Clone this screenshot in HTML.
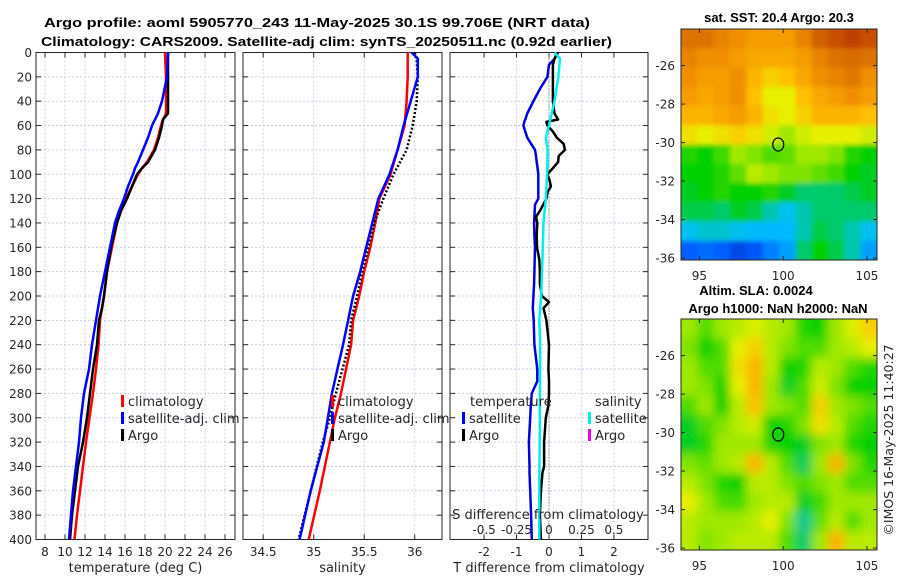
<!DOCTYPE html>
<html><head><meta charset="utf-8"><title>Argo profile</title>
<style>
html,body{margin:0;padding:0;background:#fff;}
svg{display:block;font-family:"DejaVu Sans","Liberation Sans",sans-serif;}
.tk{font-size:12px;fill:#262626;}
.ttl{font-size:13px;font-weight:bold;fill:#000;font-family:"Liberation Sans","DejaVu Sans",sans-serif;}
.lg{font-size:13px;fill:#262626;}
</style></head>
<body>
<svg id="chart" width="900" height="580" viewBox="0 0 900 580" xmlns="http://www.w3.org/2000/svg">
<defs><filter id="blur" x="0" y="0" width="1" height="1"><feGaussianBlur stdDeviation="5"/></filter>
<filter id="blur2" x="0" y="0" width="1" height="1"><feGaussianBlur stdDeviation="2.5"/></filter>
<clipPath id="cm1"><rect x="681" y="29" width="196" height="231"/></clipPath>
<clipPath id="cm2"><rect x="681" y="319" width="196" height="231"/></clipPath></defs>
<g id="root"></g>
</svg>
<script>
// ---- data ----
const tempDepths=[0,20,40,50,55,60,70,80,90,95,100,110,120,130,140,160,180,200,210,220,240,260,280,300,320,340,360,380,400];
const tempClim=[20.0,20.1,20.1,20.1,19.8,19.6,19.3,18.9,18.2,17.7,17.3,16.7,16.1,15.6,15.2,14.7,14.2,13.9,13.7,13.5,13.35,13.1,12.8,12.45,12.1,11.8,11.5,11.2,10.95];
const tempSat=[20.3,20.2,19.7,19.3,19.0,18.7,18.3,17.8,17.3,17.0,16.8,16.3,15.9,15.4,15.0,14.5,14.0,13.5,13.3,13.1,12.7,12.4,11.9,11.6,11.4,11.1,10.8,10.6,10.4];
const tempArgo=[20.3,20.3,20.3,20.3,19.8,19.7,19.4,19.0,18.3,17.7,17.2,16.7,16.2,15.6,15.2,14.6,14.2,13.9,13.7,13.4,13.2,12.8,12.5,12.2,11.8,11.3,11.0,10.7,10.5];
const salDepths=[0,5,20,40,60,80,100,120,140,160,180,200,220,240,280,300,320,360,400];
const salClim=[35.93,35.93,35.93,35.92,35.9,35.83,35.76,35.65,35.61,35.56,35.5,35.45,35.39,35.37,35.27,35.21,35.16,35.06,34.95];
const salSat=[35.97,36.03,36.03,35.96,35.89,35.83,35.75,35.64,35.58,35.52,35.46,35.39,35.34,35.29,35.18,35.14,35.1,34.97,34.86];
const salArgo=[36.0,36.02,36.03,36.02,35.98,35.92,35.79,35.69,35.6,35.54,35.48,35.43,35.37,35.35,35.22,35.16,35.09,34.97,34.85];
const dDepths=[0,5,10,20,30,40,50,55,57,60,65,70,75,80,85,90,95,100,105,110,115,120,125,130,135,140,150,160,170,180,190,200,205,210,220,240,260,270,280,290,300,320,340,345,360,380,400];
const dTSat=[0.24,0.18,0.0,-0.05,-0.28,-0.48,-0.67,-0.73,-0.76,-0.79,-0.73,-0.67,-0.55,-0.43,-0.4,-0.38,-0.35,-0.33,-0.33,-0.33,-0.33,-0.33,-0.43,-0.44,-0.45,-0.46,-0.45,-0.43,-0.44,-0.45,-0.46,-0.48,-0.49,-0.5,-0.47,-0.45,-0.36,-0.36,-0.53,-0.56,-0.58,-0.62,-0.6,-0.6,-0.58,-0.55,-0.53];
const dTArgo=[0.28,0.17,0.12,0.12,0.12,0.12,0.17,0.28,-0.08,-0.05,0.12,0.24,0.45,0.49,0.3,0.28,0.12,-0.05,0.02,0.06,-0.05,-0.08,-0.18,-0.28,-0.4,-0.36,-0.38,-0.37,-0.3,-0.28,-0.28,-0.22,0.0,-0.17,-0.08,0.0,-0.02,0.0,0.0,-0.02,-0.1,-0.15,-0.15,-0.2,-0.25,-0.28,-0.25];
const sDepths=[0,5,20,40,60,70,80,100,120,140,160,200,220,240,280,320,360,400];
const dSSat=[0.042,0.085,0.072,0.042,0.0,-0.025,-0.01,-0.015,-0.025,-0.042,-0.048,-0.06,-0.075,-0.068,-0.07,-0.072,-0.075,-0.075];
const yTicks=[0,20,40,60,80,100,120,140,160,180,200,220,240,260,280,300,320,340,360,380,400];
const tTicks=[8,10,12,14,16,18,20,22,24,26];
const sTicks=[34.5,35,35.5,36];
const sTickLabels=["34.5","35","35.5","36"];
const dTicks=[-2,-1,0,1,2];
const dSTicks=[-0.5,-0.25,0,0.25,0.5];
const dSTickLabels=["-0.5","-0.25","0","0.25","0.5"];
const latTicks=[-26,-28,-30,-32,-34,-36];
const lonTicks=[95,100,105];
const argoLon=99.706, argoLat=-30.1;
const sstGrid=[
[0.85,0.85,0.82,0.8,0.78,0.78,0.78,0.82,0.88,0.9,0.92,0.9],
[0.82,0.8,0.8,0.78,0.76,0.76,0.76,0.78,0.82,0.85,0.86,0.85],
[0.8,0.78,0.78,0.8,0.74,0.7,0.72,0.76,0.8,0.82,0.84,0.8],
[0.78,0.76,0.78,0.8,0.72,0.66,0.66,0.72,0.76,0.78,0.8,0.78],
[0.74,0.74,0.76,0.78,0.74,0.68,0.66,0.7,0.74,0.74,0.74,0.72],
[0.68,0.66,0.68,0.7,0.68,0.64,0.6,0.64,0.66,0.66,0.66,0.64],
[0.52,0.5,0.54,0.6,0.58,0.55,0.56,0.6,0.6,0.58,0.52,0.5],
[0.5,0.5,0.52,0.56,0.62,0.6,0.58,0.58,0.56,0.54,0.5,0.48],
[0.48,0.5,0.52,0.5,0.5,0.52,0.48,0.44,0.44,0.44,0.46,0.48],
[0.46,0.46,0.44,0.48,0.46,0.4,0.36,0.4,0.44,0.44,0.44,0.44],
[0.36,0.38,0.38,0.36,0.34,0.34,0.34,0.4,0.46,0.44,0.4,0.36],
[0.2,0.22,0.2,0.15,0.18,0.25,0.3,0.44,0.5,0.46,0.4,0.3]];
const slaGrid=[
[0.6,0.55,0.6,0.62,0.65,0.62,0.6,0.52,0.5,0.6,0.65,0.7],
[0.58,0.5,0.55,0.66,0.7,0.62,0.58,0.55,0.55,0.6,0.62,0.66],
[0.6,0.55,0.55,0.68,0.74,0.62,0.5,0.52,0.62,0.6,0.55,0.52],
[0.6,0.58,0.5,0.66,0.74,0.6,0.48,0.55,0.64,0.58,0.5,0.5],
[0.55,0.6,0.5,0.62,0.72,0.6,0.58,0.55,0.7,0.6,0.58,0.55],
[0.48,0.55,0.58,0.62,0.64,0.5,0.52,0.58,0.68,0.62,0.55,0.52],
[0.48,0.52,0.6,0.6,0.6,0.52,0.5,0.48,0.58,0.6,0.52,0.5],
[0.58,0.56,0.6,0.62,0.74,0.62,0.55,0.45,0.6,0.74,0.58,0.52],
[0.62,0.58,0.52,0.5,0.62,0.62,0.58,0.55,0.58,0.6,0.55,0.55],
[0.66,0.6,0.55,0.54,0.6,0.62,0.62,0.48,0.54,0.6,0.6,0.6],
[0.62,0.6,0.6,0.6,0.62,0.66,0.58,0.42,0.56,0.62,0.55,0.6],
[0.62,0.58,0.6,0.62,0.62,0.62,0.55,0.44,0.6,0.74,0.62,0.62]];

// ---- helpers ----
const NS='http://www.w3.org/2000/svg';
const root=document.getElementById('root');
function mk(tag,attrs,parent){const e=document.createElementNS(NS,tag);for(const k in attrs)e.setAttribute(k,attrs[k]);(parent||root).appendChild(e);return e;}
function txt(s,x,y,cls,anchor,parent){const t=mk('text',{x:x,y:y,'class':cls,'text-anchor':anchor||'start'},parent);t.textContent=s;return t;}
const Y0=52.5,Y1=539.5;
const yScale=d=>Y0+(d/400)*(Y1-Y0);
const panels=[
 {x0:36,x1:235,lo:7.1,hi:27,ticks:tTicks,labels:tTicks.map(String),name:'temperature-panel',title:'temperature (deg C)'},
 {x0:243,x1:442,lo:34.3,hi:36.27,ticks:sTicks,labels:sTickLabels,name:'salinity-panel',title:'salinity'},
 {x0:450,x1:648,lo:-3.05,hi:3.05,ticks:dTicks,labels:dTicks.map(String),name:'difference-panel',title:'T difference from climatology'}];
function xs(p,v){return p.x0+(v-p.lo)/(p.hi-p.lo)*(p.x1-p.x0);}
function line(p,vals,deps,color,w,name,dash){
 const pts=vals.map((v,i)=>xs(p,v).toFixed(1)+','+yScale(deps[i]).toFixed(1)).join(' ');
 const e=mk('polyline',{points:pts,fill:'none',stroke:color,'stroke-width':w,'stroke-linejoin':'round'});
 if(dash)e.setAttribute('stroke-dasharray',dash);
 
 
 return e;}

// titles
let t=txt('Argo profile: aoml 5905770_243 11-May-2025 30.1S 99.706E (NRT data)',44,27,'ttl');
t.setAttribute('textLength','546');
t.setAttribute('lengthAdjust','spacingAndGlyphs');


t=txt('Climatology: CARS2009. Satellite-adj clim: synTS_20250511.nc (0.92d earlier)',41,46,'ttl');
t.setAttribute('textLength','571');
t.setAttribute('lengthAdjust','spacingAndGlyphs');



panels.forEach((p,pi)=>{
 const g=mk('g',{});
 
 
 p.ticks.forEach(v=>{const x=xs(p,v);mk('line',{x1:x,x2:x,y1:Y0,y2:Y1,stroke:'#b8c4e6','stroke-width':0.8,'stroke-dasharray':'2,2'},g);});
 yTicks.forEach(d=>{const y=yScale(d);mk('line',{x1:p.x0,x2:p.x1,y1:y,y2:y,stroke:'#b8c4e6','stroke-width':0.8,'stroke-dasharray':'2,2'},g);
   mk('line',{x1:p.x0,x2:p.x0+5,y1:y,y2:y,stroke:'#262626'},g);mk('line',{x1:p.x1-5,x2:p.x1,y1:y,y2:y,stroke:'#262626'},g);});
 p.ticks.forEach((v,i)=>{const x=xs(p,v);mk('line',{x1:x,x2:x,y1:Y1,y2:Y1-5,stroke:'#262626'},g);mk('line',{x1:x,x2:x,y1:Y0,y2:Y0+5,stroke:'#262626'},g);
   const tl=txt(p.labels[i],x,556,'tk','middle',g);
   
   });
 const at=txt(p.title,(p.x0+p.x1)/2,572,'tk','middle',g);
 at.setAttribute('style','font-size:13px');
 
 
 mk('rect',{x:p.x0,y:Y0,width:p.x1-p.x0,height:Y1-Y0,fill:'none',stroke:'#262626','stroke-width':1},g);
});
yTicks.forEach(d=>{const tl=txt(String(d),32,yScale(d)+4.5,'tk','end');
 
 });

const P0=panels[0],P1=panels[1],P2=panels[2];
line(P0,tempClim,tempDepths,'#ff0000',2.5,'temp-climatology-line');
line(P0,tempArgo,tempDepths,'#000000',2.5,'temp-argo-line');
line(P0,tempSat,tempDepths,'#0000ff',2.5,'temp-satellite-line');
line(P1,salClim,salDepths,'#ff0000',2.5,'sal-climatology-line');
line(P1,salArgo,salDepths,'#000000',2.5,'sal-argo-line','2,2');
line(P1,salSat,salDepths,'#0000ff',2.5,'sal-satellite-line');
let z=mk('line',{x1:xs(P2,0),x2:xs(P2,0),y1:Y0,y2:Y1,stroke:'#555','stroke-width':1,'stroke-dasharray':'1,2'});


line(P2,dTSat,dDepths,'#0000dd',2.5,'temp-diff-satellite-line');
line(P2,dTArgo,dDepths,'#000000',2.5,'temp-diff-argo-line');
line(P2,dSSat.map(v=>v*4),sDepths,'#00eeee',2.5,'sal-diff-satellite-line');
t=txt('S difference from climatology',548,519,'tk','middle');t.setAttribute('style','font-size:13px');


dSTicks.forEach((v,i)=>{const tl=txt(dSTickLabels[i],xs(P2,v*4),534,'tk','middle');
 
 });

function legend(x,y,color,label,name){const g=mk('g',{});
 
 
 mk('rect',{x:x,y:y-10,width:3,height:12,fill:color},g);
 if(label)txt(label,x+7,y+1,'lg','start',g);return g;}
legend(121,405,'#ff0000','climatology','legend-entry-climatology');
legend(121,422,'#0000ff','satellite-adj. clim','legend-entry-satellite');
legend(121,439,'#000000','Argo','legend-entry-argo');
legend(331,405,'#ff0000','climatology','legend-entry-climatology');
legend(331,422,'#0000ff','satellite-adj. clim','legend-entry-satellite');
legend(331,439,'#000000','Argo','legend-entry-argo');
t=txt('temperature',470,406,'lg');


t=txt('salinity',595,406,'lg');


legend(462,422,'#0000ff','satellite','legend-entry-temp-satellite');
legend(462,439,'#000000','Argo','legend-entry-temp-argo');
legend(588,422,'#00eeee','satellite','legend-entry-sal-satellite');
legend(588,439,'#ee00ee','Argo','legend-entry-sal-argo');

const stops=[[0,[0,0,160]],[0.2,[0,96,255]],[0.35,[0,192,255]],[0.42,[0,200,144]],[0.5,[0,208,0]],[0.6,[160,232,0]],[0.66,[232,240,0]],[0.72,[255,192,0]],[0.8,[240,144,0]],[0.88,[208,96,0]],[1,[160,0,0]]];
function cmap(v){for(let i=1;i<stops.length;i++){if(v<=stops[i][0]){const a=stops[i-1],b=stops[i],f=(v-a[0])/(b[0]-a[0]);
 return 'rgb('+a[1].map((c,k)=>Math.round(c+(b[1][k]-c)*f)).join(',')+')';}}return 'rgb(160,0,0)';}
function map(top,grid,name,filt,clip){
 const L=681,R=877,B=top+231,lonLo=93.9,lonHi=105.6,latTop=-24.1,latBot=-36.1;
 const mx=v=>L+(v-lonLo)/(lonHi-lonLo)*(R-L), my=v=>top+(latTop-v)/(latTop-latBot)*(B-top);
 const g=mk('g',{});
 
 
 const gc=mk('g',{'clip-path':'url(#'+clip+')'},g);
 const inner=mk('g',{filter:'url(#'+filt+')'},gc);
 const nr=grid.length,nc=grid[0].length,cw=(R-L)/nc,ch=(B-top)/nr;
 grid.forEach((row,r)=>row.forEach((v,c)=>{
   const x=L+c*cw-(c==0?20:0), y=top+r*ch-(r==0?20:0);
   const w=cw+0.5+(c==0?20:0)+(c==nc-1?20:0), h=ch+0.5+(r==0?20:0)+(r==nr-1?20:0);
   mk('rect',{x:x,y:y,width:w,height:h,fill:cmap(v)},inner);}));
 mk('rect',{x:L,y:top,width:R-L,height:B-top,fill:'none',stroke:'#262626'},g);
 latTicks.forEach(v=>{const y=my(v);mk('line',{x1:L,x2:L+4,y1:y,y2:y,stroke:'#262626'},g);mk('line',{x1:R-4,x2:R,y1:y,y2:y,stroke:'#262626'},g);
  const tl=txt(String(v),675,y+4.5,'tk','end',g);
  
  });
 lonTicks.forEach(v=>{const x=mx(v);mk('line',{x1:x,x2:x,y1:B,y2:B-4,stroke:'#262626'},g);mk('line',{x1:x,x2:x,y1:top,y2:top+4,stroke:'#262626'},g);
  const tl=txt(String(v),x,B+20,'tk','middle',g);
  
  });
 const c=mk('ellipse',{cx:mx(argoLon),cy:my(argoLat),rx:5.5,ry:6.5,fill:'none',stroke:'#000','stroke-width':1.2},g);
 
 
}
map(29,sstGrid,'sst-map','blur2','cm1');
map(319,slaGrid,'sla-map','blur','cm2');
t=txt('sat. SST: 20.4 Argo: 20.3',779,22,'ttl','middle');


t=txt('Altim. SLA: 0.0024',756,295,'ttl','middle');


t=txt('Argo h1000: NaN h2000: NaN',778,313,'ttl','middle');


t=txt('©IMOS 16-May-2025 11:40:27',0,0,'tk','middle');
t.setAttribute('transform','translate(893,440) rotate(-90)');
t.setAttribute('style','font-size:12.5px');


</script>
</body></html>
